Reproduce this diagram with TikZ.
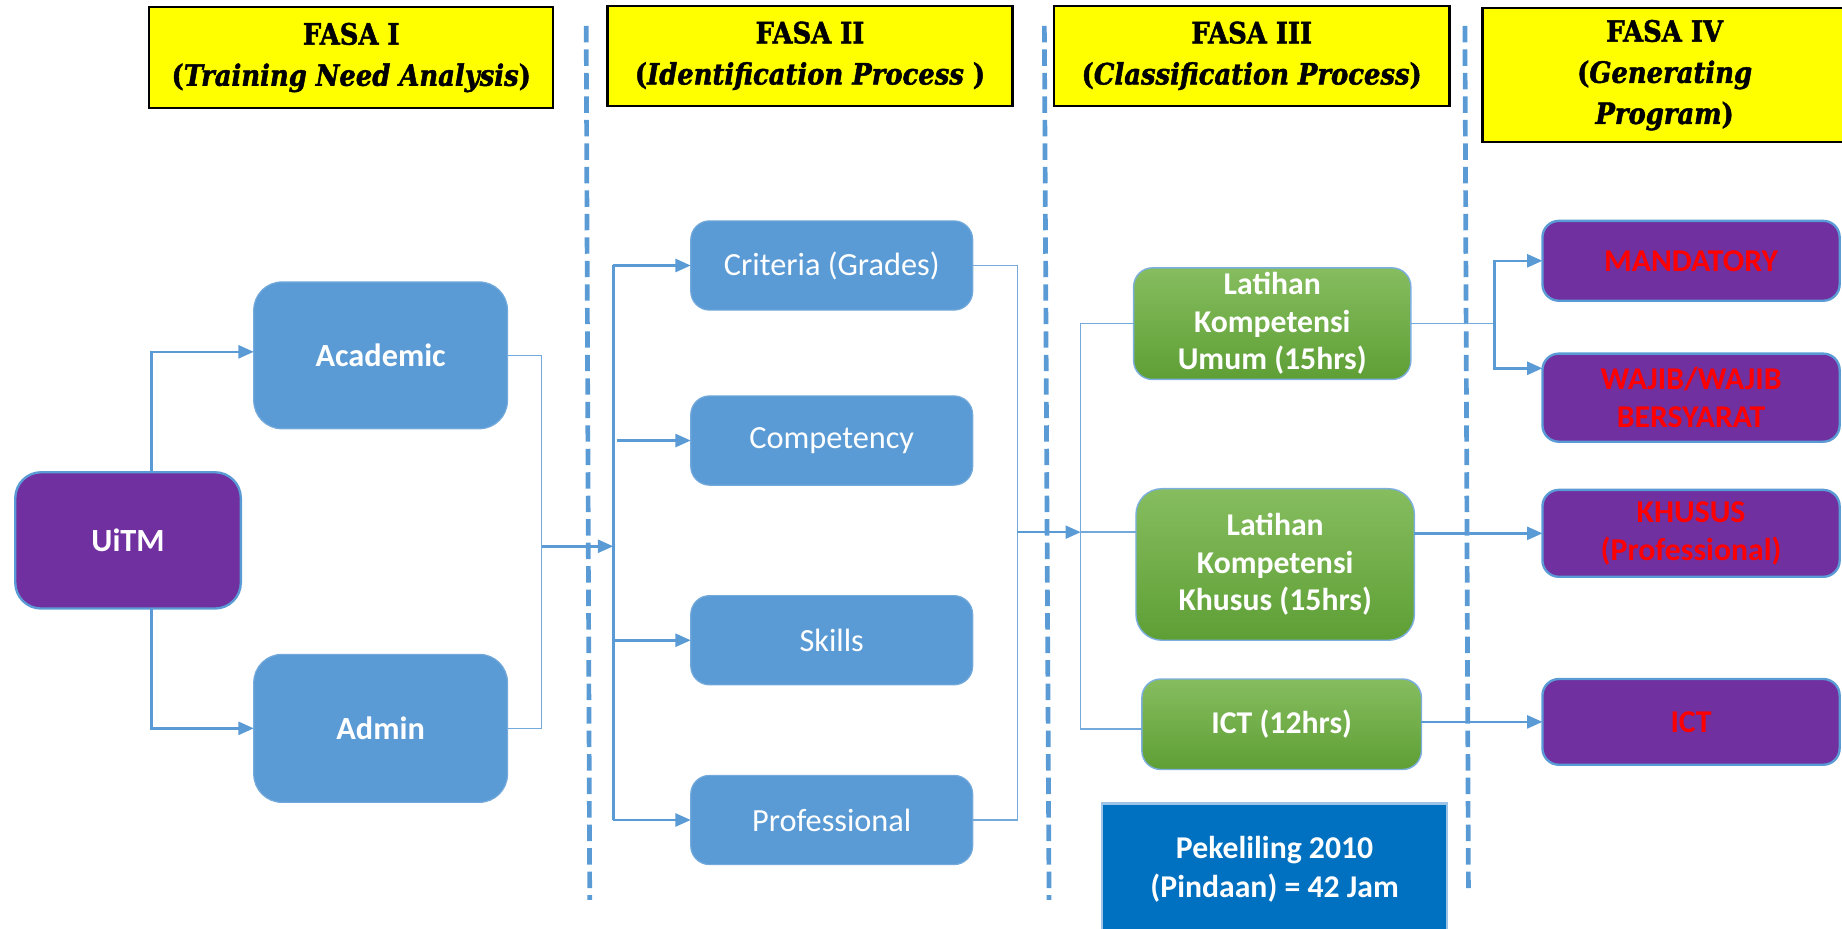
\documentclass[tikz,border=0pt]{standalone}
\usepackage{fontspec}
\setmainfont{Carlito}
\newfontfamily\hdr[FakeStretch=0.88, FakeBold=1.6]{DejaVu Serif}
\usetikzlibrary{arrows.meta,calc}
\definecolor{obl}{HTML}{5B9BD5}
\definecolor{opu}{HTML}{7030A0}
\definecolor{ogtop}{HTML}{86BD5F}
\definecolor{ogbot}{HTML}{5E9F35}
\definecolor{odb}{HTML}{0070C0}
\definecolor{oyl}{HTML}{FFFF00}
\definecolor{ored}{HTML}{FF0000}
\begin{document}
\begin{tikzpicture}[x=1pt,y=-1pt,
  base/.style={inner sep=0pt, outer sep=0pt, align=center, font=\fontsize{27.5}{32}\selectfont},
  hdrbox/.style={base, fill=oyl, draw=black, line width=2pt, font=\hdr\bfseries\fontsize{25}{35}\selectfont},
  bluebox/.style={base, fill=obl, draw=obl!85!white, line width=1pt, text=white},
  purplebox/.style={base, fill=opu, draw=obl, line width=2pt, rounded corners=14pt},
  greenbox/.style={base, top color=ogtop, bottom color=ogbot, draw=obl!80!white, line width=1.2pt, rounded corners=16pt, text=white, font=\bfseries\fontsize{27}{32}\selectfont},
  redtxt/.style={text=ored, font=\bfseries\fontsize{27}{32}\selectfont},
  arr/.style={line width=2.2pt, draw=obl, -{Triangle[length=13pt,width=11pt]}},
  thinln/.style={line width=1.2pt, draw=obl!85!white},
  divider/.style={draw=obl, line width=4pt, dash pattern=on 14pt off 6pt}
]
\useasboundingbox (0,0) rectangle (1568,790);

% headers
\node[hdrbox, minimum width=344pt, minimum height=86pt] (h1) at (299,49) {FASA I\\({\itshape Training Need Analysis})};
\node[hdrbox, minimum width=345pt, minimum height=85pt] (h2) at (689.5,47.5) {FASA II\\({\itshape Identification Process} )};
\node[hdrbox, minimum width=337pt, minimum height=85pt] (h3) at (1065.5,47.5) {FASA III\\({\itshape Classification Process})};
\node[hdrbox, minimum width=310pt, minimum height=114pt] (h4) at (1417,64) {FASA IV\\({\itshape Generating}\\{\itshape Program})};

% dividers
\draw[divider] (499,22) -- (502,766);
\draw[divider] (889,22) -- (893,766);
\draw[divider] (1247,22) -- (1250,760);

% phase I
\node[base, fill=opu, draw=obl, line width=2pt, rounded corners=22pt, text=white, font=\bfseries\fontsize{27.5}{32}\selectfont, minimum width=192pt, minimum height=116pt] (uitm) at (109,460) {UiTM};
\node[bluebox, rounded corners=24pt, font=\bfseries\fontsize{27.5}{32}\selectfont, minimum width=216pt, minimum height=125pt] (acad) at (324,302.5) {Academic};
\node[bluebox, rounded corners=24pt, font=\bfseries\fontsize{27.5}{32}\selectfont, minimum width=216pt, minimum height=126pt] (admin) at (324,620) {Admin};

% phase II
\node[bluebox, rounded corners=16pt, minimum width=240pt, minimum height=76pt] (crit) at (708,226) {Criteria (Grades)};
\node[bluebox, rounded corners=16pt, minimum width=240pt, minimum height=76pt] (comp) at (708,375) {Competency};
\node[bluebox, rounded corners=16pt, minimum width=240pt, minimum height=76pt] (skills) at (708,545) {Skills};
\node[bluebox, rounded corners=16pt, minimum width=240pt, minimum height=76pt] (prof) at (708,698) {Professional};

% phase III
\node[greenbox, minimum width=236pt, minimum height=95pt] (lku) at (1083,275.5) {Latihan\\Kompetensi\\Umum (15hrs)};
\node[greenbox, rounded corners=22pt, minimum width=237pt, minimum height=129pt] (lkk) at (1085.5,480.5) {Latihan\\Kompetensi\\Khusus (15hrs)};
\node[greenbox, minimum width=238pt, minimum height=77pt] (ict1) at (1091,616.5) {ICT (12hrs)};
\node[base, fill=odb, draw=obl!60!white, line width=2pt, text=white, font=\bfseries\fontsize{27}{33}\selectfont, minimum width=294pt, minimum height=112pt] (pek) at (1085,740) {Pekeliling 2010\\(Pindaan) = 42 Jam};

% phase IV
\node[purplebox, redtxt, minimum width=253pt, minimum height=68pt] (mand) at (1439.5,222) {MANDATORY};
\node[purplebox, redtxt, minimum width=253pt, minimum height=75pt] (wajib) at (1439.5,338.5) {WAJIB/WAJIB\\BERSYARAT};
\node[purplebox, redtxt, minimum width=253pt, minimum height=74pt] (khusus) at (1439.5,454) {KHUSUS\\(Professional)};
\node[purplebox, redtxt, minimum width=253pt, minimum height=73pt] (ict2) at (1439.5,614.5) {ICT};

% junction coordinates
\coordinate (j1) at (461,465);
\coordinate (bus1) at (522,465);
\coordinate (j2) at (866,453);
\coordinate (bus2) at (920,453);
\coordinate (j3) at (1272,275.5);

% connectors phase I
\draw[arr] ([xshift=20pt]uitm.north) |- ([yshift=3pt]acad.west);
\draw[arr] ([xshift=20pt]uitm.south) |- (admin.west);
\draw[thinln] (acad.east) -- (acad.east -| j1) -- (admin.east -| j1) -- (admin.east);
\draw[arr] (j1) -- (bus1);

% connectors phase II
\draw[line width=2.2pt, draw=obl] (crit.west -| bus1) -- (prof.west -| bus1);
\draw[arr] (crit.west -| bus1) -- (crit.west);
\draw[arr] ([xshift=3pt]comp.west -| bus1) -- (comp.west);
\draw[arr] (skills.west -| bus1) -- (skills.west);
\draw[arr] (prof.west -| bus1) -- (prof.west);
\draw[thinln] (crit.east) -- (crit.east -| j2) -- (prof.east -| j2) -- (prof.east);
\draw[arr] (j2) -- (bus2);

% connectors phase III
\draw[thinln] (lku.west) -- (lku.west -| bus2) -- ([yshift=-4pt]ict1.west -| bus2) -- ([yshift=-4pt]ict1.west);
\draw[thinln] (bus2) -- (bus2 -| lkk.west);
\draw[thinln] (lku.east) -- (j3);
\draw[arr] (j3) |- (mand.west);
\draw[arr] (j3) |- ([yshift=25pt]wajib.west);
\draw[arr] (khusus.west -| lkk.east) -- (khusus.west);
\draw[arr] (ict2.west -| ict1.east) -- (ict2.west);
\end{tikzpicture}
\end{document}
